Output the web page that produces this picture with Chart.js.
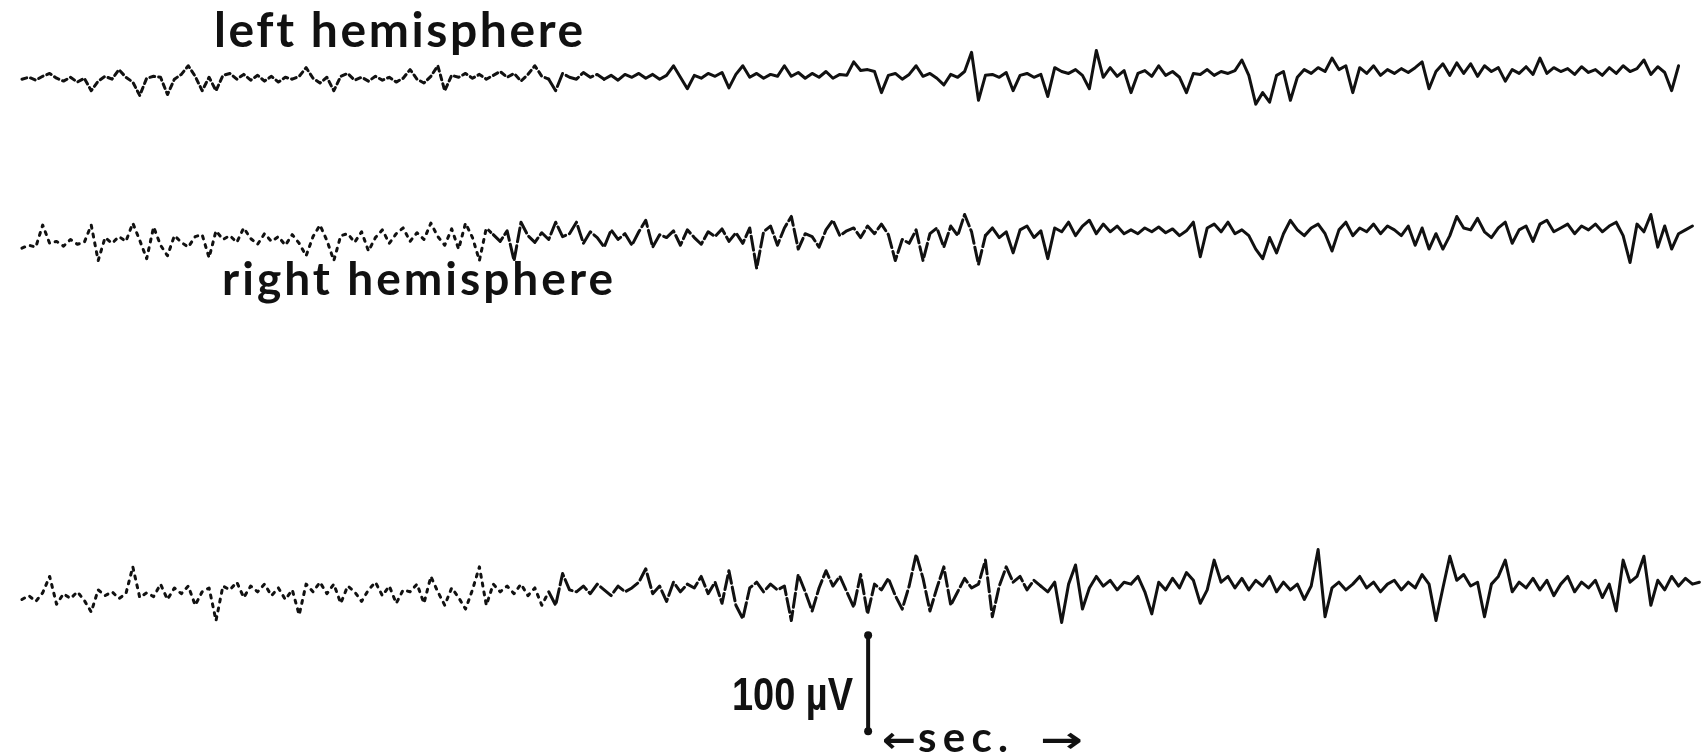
<!DOCTYPE html>
<html>
<head>
<meta charset="utf-8">
<title>EEG</title>
<script src="https://cdn.jsdelivr.net/npm/chart.js@4.4.1/dist/chart.umd.min.js"></script>
<style>
  html, body { margin: 0; padding: 0; background: #fff; }
  #wrap { width: 1707px; height: 752px; }
</style>
</head>
<body>
<div id="wrap"><canvas id="eeg" width="1707" height="752"></canvas></div>
<script>
// samples per second on every trace
const sampleRate = 28;

// upper trace - left hemisphere (µV, up = positive)
const leftHemisphereUv = [
  0, 2, -1, 3, 6, 1, -2, 2, -3, 1,
  -12, -2, 3, 0, 10, 2, -3, -17, 1, 3,
  2, -16, 0, 5, 14, 3, -12, 2, -12, 4,
  6, 0, 5, -1, 4, -2, 3, -3, 2, 0,
  3, 12, 1, -4, 2, -12, 3, 6, -1, 2,
  -2, 3, -1, 2, -3, 1, 10, 0, -4, 3,
  14, -12, 4, 2, 6, 1, 5, 0, 4, 8,
  2, 6, -2, 5, 14, 3, 0, -12, 6, 2,
  0, 7, 2, 5, 0, 4, -1, 5, 2, 6,
  1, 5, 0, 4, 14, 2, -10, 4, 1, 6,
  3, 7, -9, 5, 14, 2, 6, 1, 5, 3,
  14, 3, 7, 1, 6, 2, 8, 1, 5, 4,
  18, 9, 10, 8, -14, 4, 6, 0, 5, 14,
  3, 6, 1, -6, 5, 2, 8, 28, -22, 4,
  5, 2, 7, -12, 4, 6, 2, 5, -18, 12,
  8, 6, 10, 4, -10, 30, 2, 12, 3, 9,
  -14, 6, 9, 3, 14, 4, 8, 2, -14, 6,
  5, 10, 4, 8, 6, 9, 20, 4, -26, -14,
  -24, 4, 8, -22, 2, 10, 6, 12, 8, 22,
  10, 14, -14, 12, 6, 14, 4, 10, 6, 11,
  7, 12, 18, -10, 8, 16, 4, 17, 6, 16,
  3, 14, 8, 12, -2, 10, 6, 13, 5, 22,
  6, 12, 8, 11, 5, 13, 7, 10, 4, 12,
  6, 14, 8, 11, 20, 5, 13, 7, -12, 14
];

// middle trace - right hemisphere
const rightHemisphereUv = [
  -9, -6, -8, 15, -4, -2, -7, 0, -5, -3,
  15, -22, 2, -4, 3, -2, 17, -1, -20, 13,
  -6, -17, 4, -3, -8, 3, 5, -19, 9, 0,
  4, -3, 12, 1, -5, 6, -2, 3, -6, 5,
  -4, -17, 3, 15, -1, -22, 4, 6, -3, 8,
  -12, 2, 10, -4, 6, 12, -2, 7, 0, 17,
  3, -6, 11, -10, 17, 2, -22, 12, 5, -2,
  9, -22, 18, 4, -3, 7, 0, 18, 3, 6,
  18, -4, 8, 2, -8, 10, 0, 6, -6, 8,
  20, -8, 5, 2, 9, -6, 10, 2, -5, 8,
  3, 11, -2, 7, -4, 12, -30, 8, 14, -6,
  12, 24, -10, 6, 3, -8, 10, 20, 4, 9,
  12, 2, 14, 6, 16, 5, -22, 0, -4, 10,
  -22, 6, 12, -8, 14, 4, 26, 8, -26, 4,
  12, 2, 8, -14, 10, 14, 2, 9, -20, 12,
  8, 18, 4, 14, 20, 6, 16, 8, 14, 6,
  10, 6, 12, 8, 13, 7, 11, 4, 9, 18,
  -18, 12, 16, 8, 18, 6, 10, 4, -10, -20,
  2, -14, 6, 20, 10, 4, 12, 16, 6, -12,
  10, 18, 4, 12, 8, 16, 6, 14, 10, 4,
  14, -6, 12, -10, 6, -10, 4, 24, 12, 10,
  22, 8, 2, 12, 18, -4, 10, 14, -2, 16,
  20, 8, 12, 16, 6, 14, 10, 16, 8, 14,
  18, 4, -24, 16, 8, 26, -8, 14, -10, 6,
  10, 14
];

// lower trace
const lowerTraceUv = [
  -4, 0, -6, 3, 20, -9, 2, -3, 4, -5,
  -17, 6, 0, 4, -3, 2, 30, -2, 3, -1,
  12, -4, 8, 2, 10, -10, 4, 8, -26, 10,
  6, 14, -2, 10, 4, 12, 0, 8, -4, 6,
  -20, 12, 4, 14, 2, 12, -8, 10, 4, -6,
  6, 14, 0, 10, -8, 6, 4, 12, -8, 20,
  4, -10, 8, -2, -14, 6, 30, -10, 12, 4,
  10, 2, 12, 0, 8, -10, 4, -10, 23, 6,
  4, 10, 2, 12, 6, 0, 10, 4, 8, 14,
  28, 2, 10, -6, 14, 4, 12, 8, 20, 2,
  14, -8, 26, -10, -24, 8, 14, 4, 12, 6,
  10, -26, 22, 4, -16, 8, 26, 10, 20, 4,
  -12, 22, -19, 12, 6, 18, 0, -14, 10, 43,
  18, -16, 8, 30, -10, 4, 18, 8, 12, 37,
  -22, 10, 30, 14, 20, 6, 16, 10, 4, 14,
  -28, 12, 32, -14, 8, 20, 10, 16, 6, 14,
  12, 20, 4, -19, 14, 6, 18, 8, 24, 16,
  -8, 6, 37, 14, 20, 8, 18, 6, 16, 10,
  20, 4, 14, 6, 12, -4, 10, 48, -22, 8,
  14, 6, 12, 20, 8, 14, 4, 12, 16, 6,
  14, 8, 22, 12, -26, 8, 41, 16, 22, 10,
  14, -22, 12, 20, 37, 4, 14, 8, 18, 6,
  16, 0, 12, 20, 4, 14, 8, 16, -2, 12,
  -16, 37, 14, 20, 41, -10, 16, 6, 20, 10,
  18, 12, 14
];

// calibration bar: 100 µV, drawn at this time (s)
const calibrationUv = [0, 100];
const calibrationSec = 4.36;

const W = 1707, H = 752;
const pxPerSec = 195;
const pxPerUv = 0.97;
const traceLeft = 18;
const ink = "#111";

function toPoints(values) {
    return values.map((v, i) => ({ x: i / sampleRate, y: v }));
}

// linear y axis whose zero lands on the given pixel row
function axisAt(zeroPx) {
    return {
        type: "linear",
        axis: "y",
        display: false,
        min: -(H - zeroPx) / pxPerUv,
        max: zeroPx / pxPerUv,
    };
}

// the early part of each pen trace is faint / broken
function faded(dottedUntil, brokenUntil, dots) {
    return {
        borderDash: ctx => {
            const t = ctx.p0.parsed.x;
            if (t < dottedUntil) return dots;
            if (t < brokenUntil) return [14, 4];
            return undefined;
        },
    };
}

function trace(values, axisId, seg) {
    return {
        data: toPoints(values),
        yAxisID: axisId,
        borderColor: ink,
        borderWidth: 3,
        borderJoinStyle: "round",
        borderCapStyle: "round",
        pointRadius: 0,
        tension: 0,
        segment: seg,
    };
}

// spread the letters of a string so it spans a fixed width
// (single glyphs or too-long strings get scaled instead)
function spacedText(ctx, text, x, y, width, font) {
    ctx.font = font;
    ctx.letterSpacing = "0px";
    const w = ctx.measureText(text).width;
    const gap = text.length > 1 ? (width - w) / (text.length - 1) : -1;
    ctx.save();
    if (gap >= 0) {
        ctx.letterSpacing = gap + "px";
        ctx.fillText(text, x, y);
    } else {
        ctx.translate(x, y);
        ctx.scale(width / w, 1);
        ctx.fillText(text, 0, 0);
    }
    ctx.restore();
}

const labelsPlugin = {
    id: "eegLabels",
    afterDraw(chart) {
        const ctx = chart.ctx;
        ctx.save();
        ctx.fillStyle = ink;
        ctx.textBaseline = "alphabetic";
        ctx.textAlign = "left";
        spacedText(ctx, "left hemisphere", 214, 47, 368, "bold 48px Lato");
        spacedText(ctx, "right hemisphere", 222, 295, 391, "bold 46px Lato");
        spacedText(ctx, "100 µV", 732, 710, 121, "bold 47px 'Liberation Sans'");
        // time arrow under the calibration bar
        spacedText(ctx, "←", 882, 752, 34, "bold 36px 'DejaVu Sans'");
        spacedText(ctx, "sec.", 918, 752, 90, "bold 42px Lato");
        spacedText(ctx, "→", 1040, 752, 43, "bold 36px 'DejaVu Sans'");
        ctx.restore();
    },
};

new Chart(document.getElementById("eeg"), {
    type: "line",
    data: {
        datasets: [
            trace(leftHemisphereUv, "yLeft", faded(2.7, 3.0, [5, 4])),
            trace(rightHemisphereUv, "yRight", faded(2.42, 4.96, [3, 6])),
            trace(lowerTraceUv, "yLower", faded(2.7, 5.24, [3, 6])),
            {
                data: calibrationUv.map(v => ({ x: calibrationSec, y: v })),
                yAxisID: "yCal",
                borderColor: ink,
                borderWidth: 4,
                pointRadius: 4,
                pointBackgroundColor: ink,
                pointBorderWidth: 0,
            },
        ],
    },
    options: {
        responsive: false,
        animation: false,
        layout: { padding: 0 },
        plugins: {
            legend: { display: false },
            tooltip: { enabled: false },
        },
        scales: {
            x: {
                type: "linear",
                display: false,
                min: -traceLeft / pxPerSec,
                max: (W - traceLeft) / pxPerSec,
            },
            yLeft: axisAt(76),
            yRight: axisAt(238),
            yLower: axisAt(598),
            yCal: axisAt(735),
        },
    },
    plugins: [labelsPlugin],
});
</script>
</body>
</html>
